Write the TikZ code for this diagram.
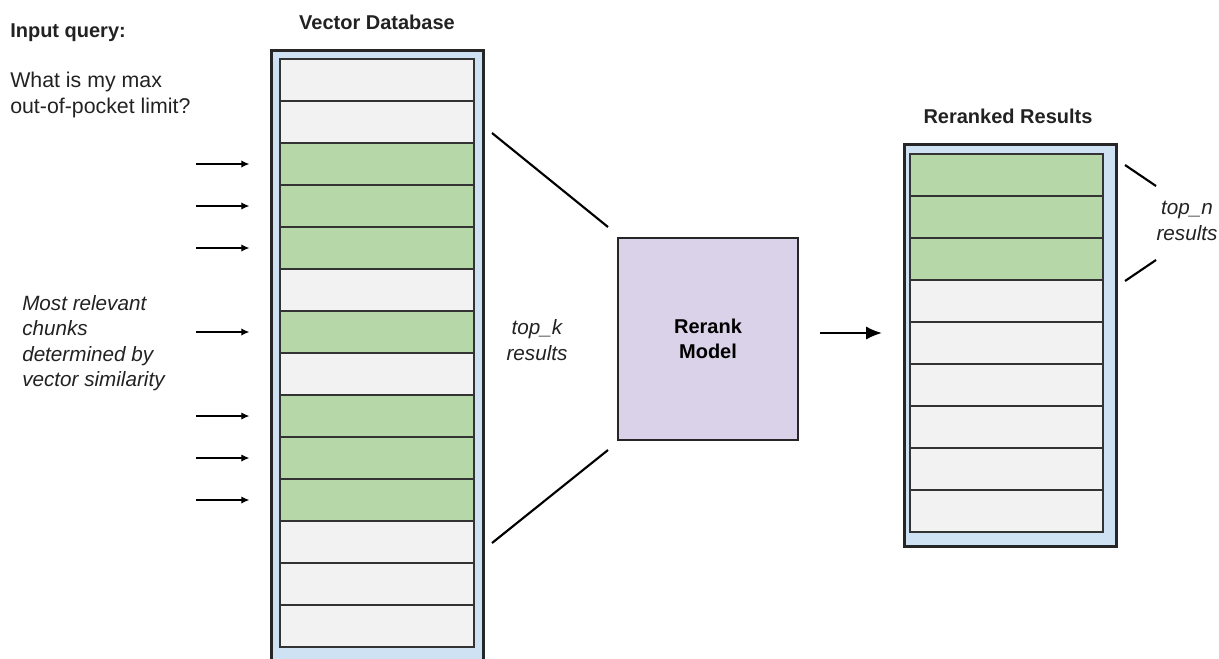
\documentclass[tikz,border=0pt]{standalone}
\usepackage{fontspec}
\setmainfont{Liberation Sans}
\usetikzlibrary{positioning,calc,arrows.meta}
\definecolor{chunkgray}{HTML}{F2F2F2}
\definecolor{hitgreen}{HTML}{B6D7A8}
\definecolor{frameblue}{HTML}{CFE2F3}
\definecolor{modelpurple}{HTML}{D9D2E9}
\definecolor{inkgray}{HTML}{222222}
\newcommand{\basefont}{\fontsize{15}{19}\selectfont}
\tikzset{
	txt/.style={font=\fontsize{16}{19.5}\selectfont, text=inkgray, inner sep=0pt},
	title/.style={font=\basefont\bfseries, text=inkgray, inner sep=0pt},
	note/.style={font=\fontsize{15.5}{19}\selectfont\itshape, text=inkgray, inner sep=0pt},
	dbframe/.style={draw=black!85, line width=2pt, fill=frameblue, inner sep=0pt},
	chunk/.style={draw=black!80, line width=1.1pt, fill=chunkgray, inner sep=0pt,
		minimum width=145.5pt, minimum height=31.5pt},
	hit/.style={chunk, fill=hitgreen},
	model/.style={draw=black!85, line width=1.6pt, fill=modelpurple, align=center,
		minimum width=135pt, minimum height=151.5pt, font=\basefont\bfseries},
	pointer/.style={-{Latex[length=6pt,width=5.5pt]}, line width=0.8pt},
	bigpointer/.style={-{Latex[length=12pt,width=10pt]}, line width=1.6pt},
	fan/.style={line width=1.6pt}
}

\begin{document}
\begin{tikzpicture}[x=0.75pt, y=-0.75pt]
	\clip (0,0) rectangle (1219,658);

	% input query
	\node[title, anchor=west] (inq) at (10,33) {Input query:};
	\node[txt, anchor=west, align=left] (query) at (10,95) {What is my max\\out-of-pocket limit?};
	\node[note, anchor=west, align=left] (relevant) at (22,343) {Most relevant\\chunks\\determined by\\vector similarity};

	% vector database
	\node[dbframe, anchor=north west, minimum width=159pt, minimum height=472.5pt] (vdb) at (270,49) {};
	\node[title] (vdbtitle) at (377,22) {Vector Database};
	\foreach \c [count=\i] in {chunk,chunk,hit,hit,hit,chunk,hit,chunk,hit,hit,hit,chunk,chunk,chunk}
		\node[\c] (db\i) at (377,38+42*\i) {};
	\foreach \i in {3,4,5,7,9,10,11}
		\draw[pointer] ([xshift=-62.25pt]db\i.west) -- ([xshift=-22.5pt]db\i.west);

	% rerank model
	\node[model] (rerank) at (708,339) {Rerank\\Model};
	\node[note, align=center] (topk) at (537,340) {top\_k\\results};
	\coordinate (k1) at (492,133);
	\coordinate (k2) at (608,227);
	\coordinate (k3) at (492,543);
	\coordinate (k4) at (608,450);
	\draw[fan] (k1) -- (k2);
	\draw[fan] (k3) -- (k4);

	% reranked results
	\node[dbframe, anchor=north west, minimum width=159pt, minimum height=301.5pt] (rrk) at (903,143) {};
	\node[title] (rrktitle) at (1008,116) {Reranked Results};
	\foreach \c [count=\i] in {hit,hit,hit,chunk,chunk,chunk,chunk,chunk,chunk}
		\node[\c, minimum width=144.75pt] (rr\i) at (1006.5,133+42*\i) {};
	\draw[bigpointer] ([xshift=15.75pt, yshift=4.5pt]rerank.east) -- ([xshift=-15.75pt, yshift=4.5pt]rerank.east -| rrk.west);

	\node[note, align=center] (topn) at (1187,221) {top\_n\\results};
	\coordinate (n1) at (1125,165);
	\coordinate (n2) at (1156,186);
	\coordinate (n3) at (1125,281);
	\coordinate (n4) at (1156,260);
	\draw[fan] (n1) -- (n2);
	\draw[fan] (n3) -- (n4);
\end{tikzpicture}
\end{document}
